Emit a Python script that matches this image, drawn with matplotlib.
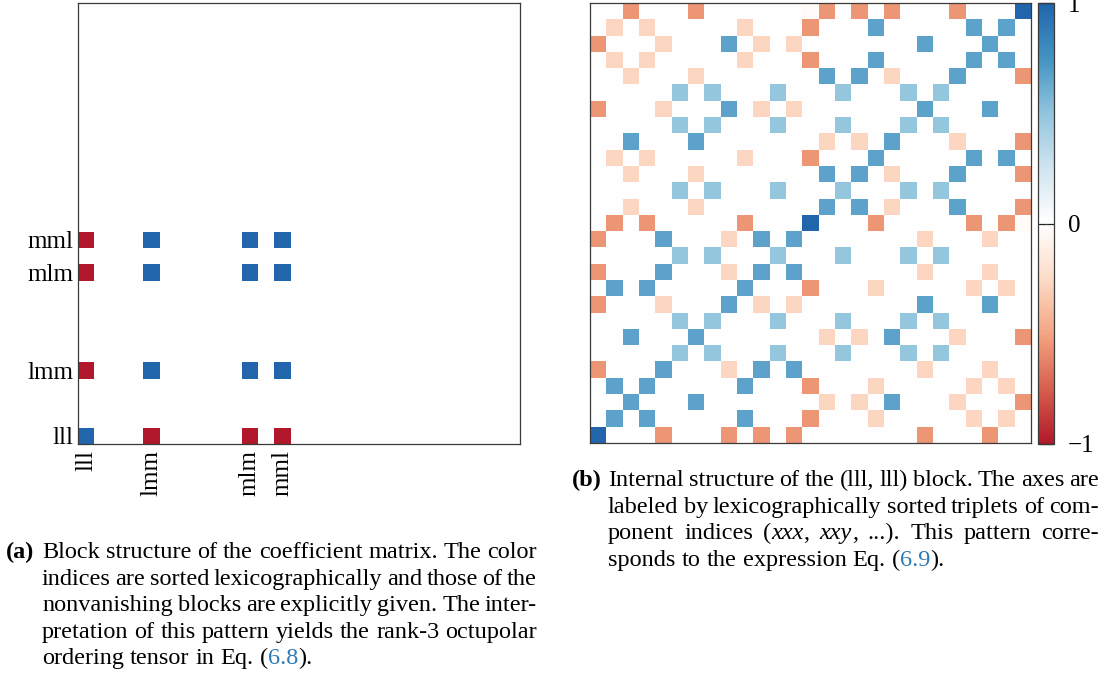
import re
import numpy as np
import matplotlib
matplotlib.use("Agg")
import matplotlib.pyplot as plt
from matplotlib.colors import LinearSegmentedColormap

plt.rcParams["font.family"] = ["Liberation Serif", "DejaVu Serif"]
FS = 17.5
TICK_FS = 18
LINK = "#2c7bb6"

# (a) nonvanishing blocks of the coefficient matrix
block_labels = ["lll", "lmm", "mlm", "mml"]
block_index = [0, 4, 10, 12]
block_signs = [[1, -1, -1, -1],
               [-1, 1, 1, 1],
               [-1, 1, 1, 1],
               [-1, 1, 1, 1]]
n_blocks = 27

# (b) entries of the (lll, lll) block, rows listed from zzz (top) down to xxx
level_values = {".": 0.0, "f": -0.03, "r": -0.27, "R": -0.55,
                "b": 0.49, "B": 0.67, "D": 1.0}
lll_rows = [
    "..R...R.. ....fR.R. R...R...D",
    ".r.r..... r...R...B .....B.B.",
    "R...r...B .r.r..... ..B...B..",
    ".r.r..... r...R...B .....B.B.",
    "..r...r.. .....B.B. r...B...R",
    ".....b.b. ..b...b.. .b.b.....",
    "R...r...B .r.r..... ..B...B..",
    ".....b.b. ..b...b.. .b.b.....",
    "..B...B.. .....r.r. B...r...R",
    ".r.r..... r...R...B .....B.B.",
    "..r...r.. .....B.B. r...B...R",
    ".....b.b. ..b...b.. .b.b.....",
    "..r...r.. .....B.B. r...B...R",
    ".R.R..... R...D...R .....R.Rf",
    "R...B...r .B.B..... ..r...r..",
    ".....b.b. ..b...b.. .b.b.....",
    "R...B...r .B.B..... ..r...r..",
    ".B.B..... B...R...r .....r.r.",
    "R...r...B .r.r..... ..B...B..",
    ".....b.b. ..b...b.. .b.b.....",
    "..B...B.. .....r.r. B...r...R",
    ".....b.b. ..b...b.. .b.b.....",
    "R...B...r .B.B..... ..r...r..",
    ".B.B..... B...R...r .....r.r.",
    "..B...B.. .....r.r. B...r...R",
    ".B.B..... B...R...r .....r.r.",
    "D...R...R .R.R..... ..R...R..",
]

caption_a = [
    "Block structure of the coefficient matrix. The color",
    "indices are sorted lexicographically and those of the",
    "nonvanishing blocks are explicitly given. The inter-",
    "pretation of this pattern yields the rank-3 octupolar",
    "ordering tensor in Eq. ({6.8}).",
]
caption_b = [
    "Internal structure of the (lll, lll) block. The axes are",
    "labeled by lexicographically sorted triplets of com-",
    "ponent indices (*xxx*, *xxy*, ...). This pattern corre-",
    "sponds to the expression Eq. ({6.9}).",
]

cmap = LinearSegmentedColormap.from_list(
    "rdbu9", ["#b2182b", "#d6604d", "#f4a582", "#fddbc7", "#ffffff",
              "#d1e5f0", "#92c5de", "#4393c3", "#2166ac"])

W, H = 1106, 684
fig = plt.figure(figsize=(W / 100, H / 100), dpi=100)


def box(x0, y0, x1, y1):
    return [x0 / W, 1 - y1 / H, (x1 - x0) / W, (y1 - y0) / H]


ax_a = fig.add_axes(box(78, 3, 520, 444))
ax_b = fig.add_axes(box(590, 3, 1031, 443))
cax = fig.add_axes(box(1038, 3, 1054, 444))

# block matrix
blocks = np.zeros((n_blocks, n_blocks))
for i, r in enumerate(block_index):
    for j, c in enumerate(block_index):
        blocks[r, c] = block_signs[i][j]
ax_a.imshow(blocks, cmap=cmap, vmin=-1, vmax=1, origin="lower",
            aspect="auto", interpolation="nearest")
ax_a.set_xticks(block_index)
ax_a.set_xticklabels(block_labels, rotation=90, fontsize=TICK_FS)
ax_a.set_yticks(block_index)
ax_a.set_yticklabels(block_labels, fontsize=TICK_FS)
ax_a.tick_params(axis="both", length=0)
ax_a.tick_params(axis="y", pad=3)
ax_a.tick_params(axis="x", pad=4)

# inner structure of the (lll, lll) block
lll_block = np.array([[level_values[ch] for ch in row.replace(" ", "")]
                      for row in lll_rows])
im = ax_b.imshow(lll_block, cmap=cmap, vmin=-1, vmax=1, origin="upper",
                 aspect="auto", interpolation="nearest")
ax_b.set_xticks([])
ax_b.set_yticks([])

for ax in (ax_a, ax_b):
    for sp in ax.spines.values():
        sp.set_color("#3a3a3a")
        sp.set_linewidth(0.9)

cb = fig.colorbar(im, cax=cax, ticks=[-1, 0, 1])
cb.outline.set_edgecolor("#3a3a3a")
cb.outline.set_linewidth(0.9)
cb.ax.tick_params(direction="in", length=5.8, width=0.9, left=True, right=True,
                  labelsize=TICK_FS, pad=10, color="#222222")

# captions, justified word by word
fig.canvas.draw()
renderer = fig.canvas.get_renderer()
probe = fig.text(0, 0, "a a", fontsize=FS)
probe2 = fig.text(0, 0, "aa", fontsize=FS)
space_w = (probe.get_window_extent(renderer).width
           - probe2.get_window_extent(renderer).width)
probe.remove()
probe2.remove()


def write_caption(tag, lines, x_tag, x0, x1, y0, step):
    fig.text(x_tag / W, 1 - y0 / H, tag, fontsize=FS, fontweight="bold",
             va="baseline")
    for k, line in enumerate(lines):
        y = 1 - (y0 + k * step) / H
        words = []
        for word in line.split(" "):
            pieces = []
            for part in re.split(r"(\{[^}]*\}|\*[^*]*\*)", word):
                if not part:
                    continue
                style = {}
                if part.startswith("{"):
                    part, style = part[1:-1], {"color": LINK}
                elif part.startswith("*"):
                    part, style = part[1:-1], {"style": "italic"}
                pieces.append(fig.text(0, y, part, fontsize=FS,
                                       va="baseline", **style))
            words.append(pieces)
        widths = [[t.get_window_extent(renderer).width for t in w] for w in words]
        total = sum(sum(w) for w in widths)
        if k < len(lines) - 1 and len(words) > 1:
            gap = (x1 - x0 - total) / (len(words) - 1)
        else:
            gap = space_w
        x = x0
        for pieces, ws in zip(words, widths):
            for t, w in zip(pieces, ws):
                t.set_x(x / W)
                x += w
            x += gap


write_caption("(a)", caption_a, 6, 42, 537, 558, 26.6)
write_caption("(b)", caption_b, 572, 608, 1099, 486, 26.6)

fig.savefig("out.png", dpi=100)
